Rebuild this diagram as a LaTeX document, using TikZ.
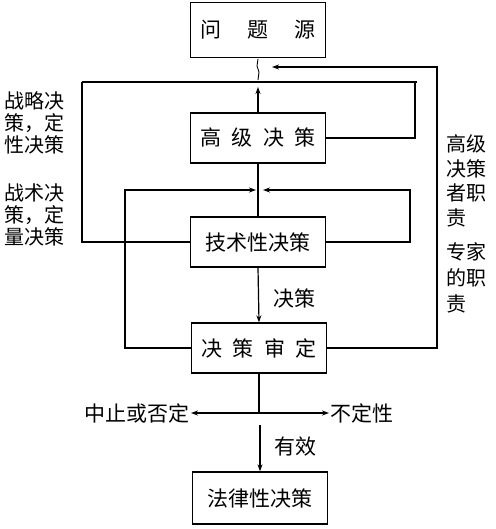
\documentclass[tikz,border=0pt]{standalone}
\usepackage{fontspec}
\newfontfamily\cjk{Noto Sans CJK SC}
\usetikzlibrary{arrows.meta}
\begin{document}
\begin{tikzpicture}[x=1pt,y=-1pt,
  box/.style={draw, line width=1.3pt, minimum width=135pt, minimum height=50pt, inner sep=0pt, font=\cjk\fontsize{21}{22}\selectfont},
  lbl/.style={font=\cjk\fontsize{21}{22}\selectfont, inner sep=1pt},
  side/.style={font=\cjk\fontsize{20}{22}\selectfont, inner sep=0pt, align=left},
  ln/.style={line width=1.2pt},
  arr/.style={ln, -{Stealth[length=7pt,width=5pt]}}]
\useasboundingbox (0,0) rectangle (495,529);

% boxes
\node[box, minimum height=55pt] (q) at (258,30) {问\hspace{1.25em}题\hspace{1.25em}源};
\node[box] (g) at (258,138) {高\hspace{0.5em}级\hspace{0.5em}决\hspace{0.5em}策};
\node[box] (t) at (258,242) {技术性决策};
\node[box] (s) at (259,348) {决\hspace{0.5em}策\hspace{0.5em}审\hspace{0.5em}定};
\node[box, minimum height=52pt] (f) at (260,498) {法律性决策};

% side labels
\node[side, anchor=west] (l1) at (4,123) {战略决\\策，定\\性决策};
\node[side, anchor=west] (l2) at (4,215) {战术决\\策，定\\量决策};
\node[side, anchor=west, font=\cjk\fontsize{20}{24.5}\selectfont] (r1) at (446,181) {高级\\决策\\者职\\责};
\node[side, anchor=west, font=\cjk\fontsize{20}{26}\selectfont] (r2) at (446,278) {专家\\的职\\责};

% coordinates
\coordinate (A1) at (82,82);
\coordinate (A2) at (417,82);
\coordinate (A3) at (415,82);
\coordinate (gup) at (258,87);
\coordinate (Z1) at (258,80);
\coordinate (Z2) at (259,72);
\coordinate (Z3) at (257,66);
\coordinate (Z4) at (258,59);
\coordinate (R1) at (437,67);
\coordinate (R1e) at (272,67);
\coordinate (R2) at (410,190);
\coordinate (R2e) at (263,190);
\coordinate (L2) at (125,190);
\coordinate (L2e) at (256,190);
\coordinate (J) at (259,413);
\coordinate (K) at (260,425);

% top loop
\draw[ln] (A1) -- (A2);
\draw[ln] (g.east) -- (g.east -| A3) -- (A3);
\draw[ln] (A1) -- (A1 |- t.west) -- (t.west);
\draw[arr] (g.north) -- (gup);
\draw[line width=0.9pt] (Z1) -- (Z2) -- (Z3) -- (Z4);

% outer right feedback
\draw[arr] (s.east) -- (s.east -| R1) -- (R1) -- (R1e);

% inner loops
\draw[arr] (t.east) -- (t.east -| R2) -- (R2) -- (R2e);
\draw[arr] (s.west) -- (s.west -| L2) -- (L2) -- (L2e);
\draw[ln] (g.south) -- (t.north);

% decision
\draw[arr] (t.south) -- (s.north);
\node[lbl] (dc) at (294,298) {决策};

% outcomes
\node[lbl, anchor=east] (stop) at (191,413) {中止或否定};
\node[lbl, anchor=west] (unc) at (329,413) {不定性};
\draw[ln] (s.south) -- (J);
\draw[arr] (J) -- (stop.east);
\draw[arr] (J) -- (unc.west);
\draw[arr] (K) -- (f.north);
\node[lbl] (ok) at (295,447) {有效};
\end{tikzpicture}
\end{document}
